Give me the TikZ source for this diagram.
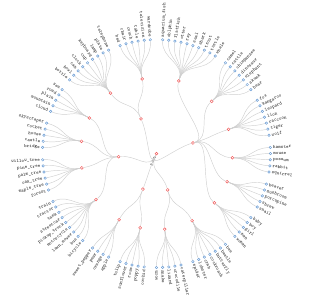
\documentclass[tikz,border=0pt]{standalone}
\usepackage{fontspec}
\usetikzlibrary{calc}
\definecolor{linkgray}{HTML}{CFCFCF}
\definecolor{leafblue}{HTML}{6E9FD6}
\definecolor{innerred}{HTML}{F25C5C}

\begin{document}
\begin{tikzpicture}[x=1pt,y=1pt,
  declare function={ang(\u)=90-(\u+1)*3.1034483;},
  inner/.style={circle,draw=innerred,fill=white,line width=0.5pt,minimum size=2.9pt,inner sep=0pt},
  leaf/.style={circle,draw=leafblue,fill=white,line width=0.5pt,minimum size=2.5pt,inner sep=0pt},
  link/.style={draw=linkgray,line width=0.45pt},
  lbl/.style={font=\ttfamily\fontsize{4.9}{5}\selectfont,inner sep=0pt,text=black!85}]
\useasboundingbox (-156.5,-147.4) rectangle (154.5,153.6);
% root
\node[inner] (root) at (0,0) {};
\node[lbl,anchor=east,rotate={ang(65)+180}] (root-t) at ($(root)+({ang(65)}:2.6)$) {root};
% first level
\foreach \n/\u in {t1/22.75,t2/51.5,t3/63.75,t4/84.5,t5/107.25}{
  \node[inner] (\n) at ({ang(\u)}:38) {};
  \draw[link] (root) .. controls ({ang(65)}:19) and ({ang(\u)}:19) .. (\n);
}
% groups and leaves
\foreach \g/\c/\p/\pu/\f/\names in {
  gA/4.5/t1/22.75/0/{aquarium\_fish,dolphin,flatfish,otter,ray,seal,shark,trout,turtle,whale},
  gB/14/t1/22.75/11/{camel,cattle,chimpanzee,dinosaur,elephant,skunk,bear},
  gC/22/t1/22.75/19/{fox,kangaroo,leopard,lion,raccoon,tiger,wolf},
  gD/29/t1/22.75/27/{hamster,mouse,possum,rabbit,squirrel},
  gE/35/t1/22.75/33/{beaver,mushroom,porcupine,shrew,snail},
  gF/41/t1/22.75/39/{baby,boy,girl,man,woman},
  gG/48/t2/51.5/45/{bee,beetle,butterfly,cockroach,crab,lobster,spider},
  gH/55/t2/51.5/53/{caterpillar,crocodile,lizard,snake,worm},
  gJ/61/t3/63.75/59/{orchid,poppy,rose,sunflower,tulip},
  gK/66.5/t3/63.75/65/{apple,orange,pear,sweet\_pepper},
  gL/74/t4/84.5/70/{bicycle,bus,lawn\_mower,motorcycle,pickup\_truck,streetcar,tank,tractor,train},
  gM/82.5/t4/84.5/80/{forest,maple\_tree,oak\_tree,palm\_tree,pine\_tree,willow\_tree},
  gN/89/t4/84.5/87/{bridge,castle,house,rocket,skyscraper},
  gO/95/t4/84.5/93/{cloud,mountain,plain,road,sea},
  gP/103/t5/107.25/99/{bottle,bowl,can,clock,cup,keyboard,lamp,plate,telephone},
  gQ/111.5/t5/107.25/109/{bed,chair,couch,table,television,wardrobe}}{
  \node[inner] (\g) at ({ang(\c)}:76) {};
  \draw[link] (\p) .. controls ({ang(\pu)}:57) and ({ang(\c)}:57) .. (\g);
  \foreach \lab [count=\i from 0] in \names {
    \pgfmathsetmacro\a{ang(\f+\i)}
    \node[leaf] (\g-\i) at (\a:114) {};
    \draw[link] (\g) .. controls ({ang(\c)}:95) and (\a:95) .. (\g-\i);
    \pgfmathparse{\a>-90 ? 1 : 0}
    \ifnum\pgfmathresult=1
      \node[lbl,anchor=west,rotate=\a] (\g-\i-t) at (\a:116.6) {\lab};
    \else
      \node[lbl,anchor=east,rotate=\a+180] (\g-\i-t) at (\a:116.6) {\lab};
    \fi
  }
}
\end{tikzpicture}
\end{document}
